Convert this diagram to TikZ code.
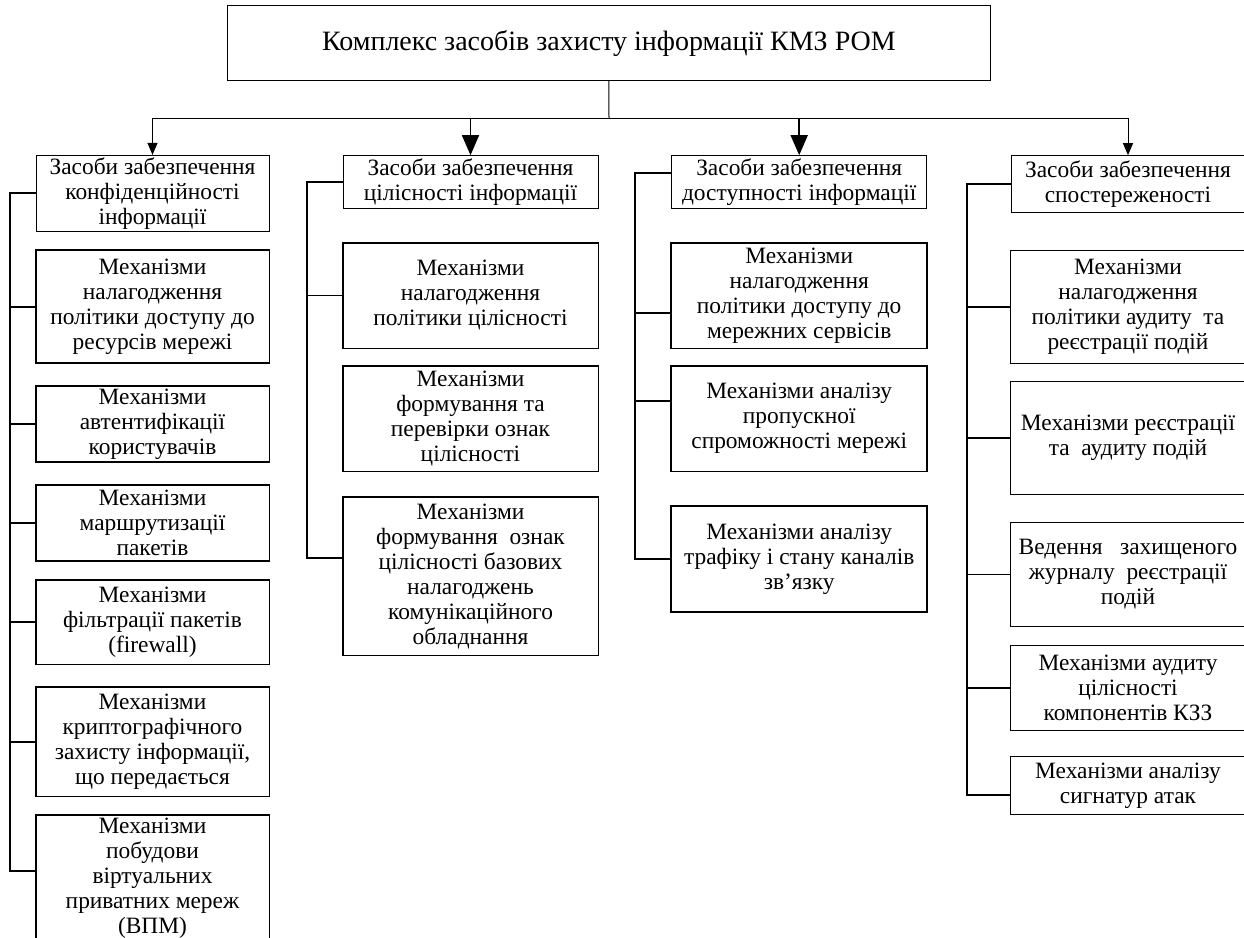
\documentclass[tikz,border=0pt]{standalone}
\usepackage{fontspec}
\setmainfont{Liberation Serif}
\usepackage{tikz}
\usetikzlibrary{arrows.meta}

\tikzset{
  topbox/.style={draw, line width=0.5pt, minimum width=381.9pt, minimum height=37.5pt, font=\fontsize{14}{16}\selectfont},
  hdrbox/.style={draw, line width=0.5pt, align=center, inner sep=1pt, font=\fontsize{11.7}{12.5}\selectfont},
  mechbox/.style={align=center, inner sep=1pt, font=\fontsize{11.7}{12.5}\selectfont},
  frame/.style={line width=0.9pt},
  framethin/.style={line width=0.6pt},
  colA/.style={minimum width=116.5pt},
  colB/.style={minimum width=127.5pt},
  colD/.style={minimum width=117pt},
  bus/.style={line width=0.9pt},
  smallarr/.style={-{Triangle[length=6pt,width=5pt]}, line width=0.5pt},
  bigarr/.style={-{Triangle[length=10pt,width=8.5pt]}, line width=0.8pt},
}

\begin{document}
\begin{tikzpicture}[x=0.5pt,y=-0.5pt]
\path[use as bounding box, clip] (0,0) rectangle (1244,938);

% top
\node[topbox] (kzz) at (608.9,43.2) {Комплекс засобів захисту інформації КМЗ РОМ};
\coordinate (split) at (609,118);

% column 1
\node[hdrbox, colA, minimum height=37.7pt] (conf) at (152.5,193.3) {Засоби забезпечення\\конфіденційності\\інформації};
\node[mechbox, colA, minimum height=56pt] (res) at (152.5,306.7) {Механізми\\налагодження\\політики доступу до\\ресурсів мережі};
\node[mechbox, colA, minimum height=37.5pt] (auth) at (152.5,424.2) {Механізми\\автентифікації\\користувачів};
\node[mechbox, colA, minimum height=37.8pt] (route) at (152.5,522.9) {Механізми\\маршрутизації\\пакетів};
\node[mechbox, colA, minimum height=42pt] (filt) at (152.5,622) {Механізми\\фільтрації пакетів\\(firewall)};
\node[mechbox, colA, minimum height=54.2pt] (crypt) at (152.5,741.9) {Механізми\\криптографічного\\захисту інформації,\\що передається};
\node[mechbox, colA, minimum height=59pt] (vpm) at (152.5,878) {Механізми\\побудови\\віртуальних\\приватних мереж\\(ВПМ)};

% column 2
\node[hdrbox, colB, minimum height=26.2pt] (integ) at (470.5,181.9) {Засоби забезпечення\\цілісності інформації};
\node[mechbox, colB, minimum height=52.5pt] (ipol) at (470.5,295.5) {Механізми\\налагодження\\політики цілісності};
\node[mechbox, colB, minimum height=52.5pt] (imark) at (470.5,418.5) {Механізми\\формування та\\перевірки ознак\\цілісності};
\node[mechbox, colB, minimum height=78.7pt] (ibase) at (470.5,576.4) {Механізми\\формування~ ознак\\цілісності базових\\налагоджень\\комунікаційного\\обладнання};

% column 3
\node[hdrbox, colB, minimum height=26.2pt] (avail) at (799.2,181.9) {Засоби забезпечення\\доступності інформації};
\node[mechbox, colB, minimum height=52.5pt] (aserv) at (799.2,295.5) {Механізми\\налагодження\\політики доступу до\\мережних сервісів};
\node[mechbox, colB, minimum height=52.5pt] (aband) at (799.2,418.5) {Механізми аналізу\\пропускної\\спроможності мережі};
\node[mechbox, colB, minimum height=52.5pt] (atraf) at (799.2,559.2) {Механізми аналізу\\трафіку і стану каналів\\зв’язку};

% column 4
\node[hdrbox, colD, minimum height=28.5pt] (obs) at (1128,184.2) {Засоби забезпечення\\спостереженості};
\node[mechbox, colD, minimum height=55.9pt] (opol) at (1128,306.9) {Механізми\\налагодження\\політики аудиту~ та\\реєстрації подій};
\node[mechbox, colD, minimum height=56pt] (oreg) at (1128,438) {Механізми реєстрації\\та~ аудиту подій};
\node[mechbox, colD, minimum height=51.5pt] (olog) at (1128,574.5) {Ведення~~ захищеного\\журналу~ реєстрації\\подій};
\node[mechbox, colD, minimum height=42.2pt] (okzz) at (1128,687.9) {Механізми аудиту\\цілісності\\компонентів КЗЗ};
\node[mechbox, colD, minimum height=28.5pt] (osig) at (1128,785.5) {Механізми аналізу\\сигнатур атак};

% frames of the mechanism boxes
\foreach \n in {res,auth,route,filt,crypt,vpm,ipol,imark,ibase,aserv,aband,atraf}
  \draw[frame] (\n.north west) rectangle (\n.south east);
\foreach \n in {opol,oreg,olog,okzz,osig}
  \draw[framethin] (\n.north west) rectangle (\n.south east);

% distribution
\draw[line width=0.5pt] (kzz.south) -- (split);
\draw[line width=0.5pt] (conf.north |- split) -- (obs.north |- split);
\draw[smallarr] (conf.north |- split) -- (conf.north);
\draw[bigarr] (integ.north |- split) -- (integ.north);
\draw[bigarr] (avail.north |- split) -- (avail.north);
\draw[smallarr] (obs.north |- split) -- (obs.north);

% buses
\coordinate (busA) at (10,0);
\coordinate (busB) at (306.7,0);
\coordinate (busC) at (635,0);
\coordinate (busD) at (966.7,0);
\coordinate (vpmIn) at ([yshift=3.6pt]vpm.west);
\coordinate (ibaseIn) at ([yshift=9.3pt]ibase.west);
\coordinate (availIn) at ([yshift=4.3pt]avail.west);
\coordinate (aservIn) at ([yshift=-8.9pt]aserv.west);
\coordinate (abandIn) at ([yshift=8.7pt]aband.west);
\coordinate (osigIn) at ([yshift=-4.7pt]osig.west);

\draw[bus] (conf.west) -| (vpmIn -| busA) -- (vpmIn);
\foreach \b in {res,auth,route,filt,crypt}
  \draw[bus] (\b.west -| busA) -- (\b.west);

\draw[bus] (integ.west) -| (ibaseIn -| busB) -- (ibaseIn);
\draw[bus] (ipol.west -| busB) -- (ipol.west);

\draw[bus] (availIn) -| (atraf.west -| busC) -- (atraf.west);
\draw[bus] (aservIn -| busC) -- (aservIn);
\draw[bus] (abandIn -| busC) -- (abandIn);

\draw[bus] (obs.west) -| (osigIn -| busD) -- (osigIn);
\foreach \b in {opol,oreg,olog,okzz}
  \draw[bus] (\b.west -| busD) -- (\b.west);
\end{tikzpicture}
\end{document}
